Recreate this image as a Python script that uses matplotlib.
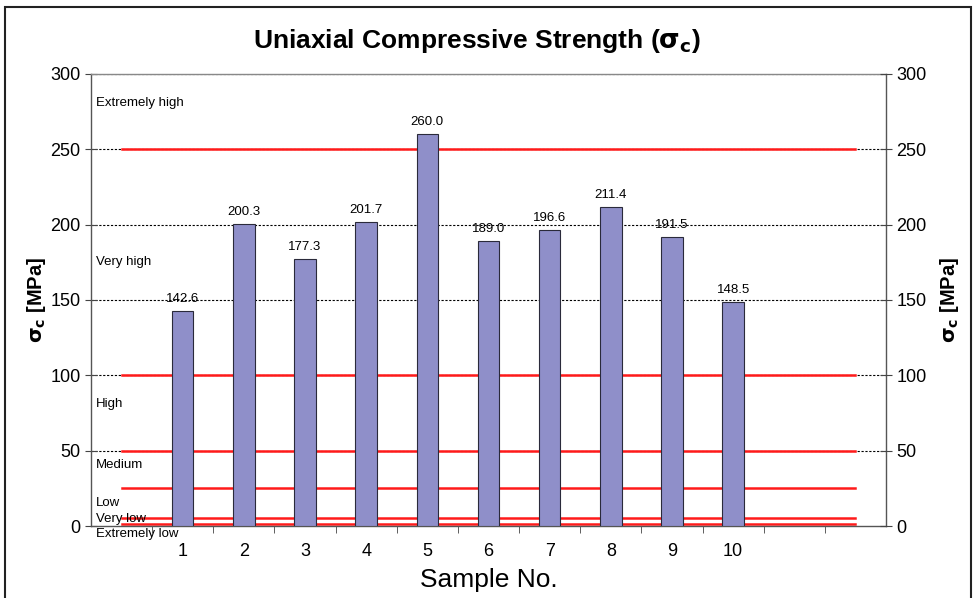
import matplotlib.pyplot as plt
import matplotlib.patches as mpatches
import numpy as np

plt.rcParams['font.family'] = ['Liberation Sans', 'DejaVu Sans']

samples = ['1', '2', '3', '4', '5', '6', '7', '8', '9', '10']
ucs = [142.6, 200.3, 177.3, 201.7, 260.0, 189.0, 196.6, 211.4, 191.5, 148.5]

# class boundaries (MPa) and class names
boundaries = [250, 100, 50, 25, 5, 1]
classNames = ['Extremely high', 'Very high', 'High', 'Medium', 'Low', 'Very low', 'Extremely low']
classLabelY = [281, 175, 81, 40.5, 15.5, 4.5, -5.5]

nCat = 13  # empty slot before and two after the samples
xCat = np.arange(nCat)
xBars = np.arange(1, len(samples) + 1)

fig = plt.figure(figsize=(9.74, 5.98), dpi=100)
ax = fig.add_axes([0.0934, 0.1204, 0.8163, 0.7559])

ax.set_ylim(0, 300)
ax.set_xlim(-0.5, nCat - 0.5)
ax.set_yticks(range(0, 301, 50))
for y in range(50, 301, 50):
	ax.axhline(y, color='black', lw=0.8, ls=(0, (2, 1.5)), zorder=1)

for b in boundaries:
	ax.plot(xCat, [b] * nCat, color='#ff1a1a', lw=1.8, zorder=2)

ax.bar(xBars, ucs, width=0.35, color='#8f8fc9', edgecolor='#2a2a3a', lw=0.8, zorder=3)
for x, v in zip(xBars, ucs):
	ax.text(x, v + 4, '%.1f' % v, ha='center', va='bottom', fontsize=9.5, zorder=4)

for name, y in zip(classNames, classLabelY):
	ax.text(0.006, y, name, transform=ax.get_yaxis_transform(), fontsize=9.5, va='center', ha='left', zorder=5, clip_on=False)

ax.set_xticks(xBars)
ax.set_xticklabels(samples, fontsize=13)
ax.set_xticks(np.arange(0.5, nCat - 0.5, 1), minor=True)
ax.tick_params(axis='x', which='major', length=0, pad=12)
ax.tick_params(axis='x', which='minor', length=5, direction='out', color='#444444')
ax.tick_params(axis='y', labelsize=13, direction='inout', length=8, color='#444444')
ax.set_xlabel('Sample No.', fontsize=19, labelpad=6)
ax.set_ylabel(r'$\mathbf{\sigma_c}$ [MPa]', fontsize=14.5, fontweight='bold', labelpad=2)

for s in ax.spines.values():
	s.set_color('#555555')
	s.set_linewidth(1.0)
ax.spines['top'].set_color('#888888')

ax2 = ax.twinx()
ax2.set_ylim(0, 300)
ax2.set_yticks(range(0, 301, 50))
ax2.tick_params(axis='y', labelsize=13, direction='inout', length=8, color='#444444')
ax2.set_ylabel(r'$\mathbf{\sigma_c}$ [MPa]', fontsize=14.5, fontweight='bold', labelpad=8)
for s in ax2.spines.values():
	s.set_visible(False)

fig.text(0.49, 0.932, r'Uniaxial Compressive Strength ($\mathbf{\sigma_c}$)', ha='center', va='center', fontsize=19, fontweight='bold')

fig.patches.append(mpatches.Rectangle((0.005, -0.01), 0.992, 0.998, transform=fig.transFigure,
	fill=False, edgecolor='#222222', lw=1.5))

fig.savefig('out.png', dpi=100)
